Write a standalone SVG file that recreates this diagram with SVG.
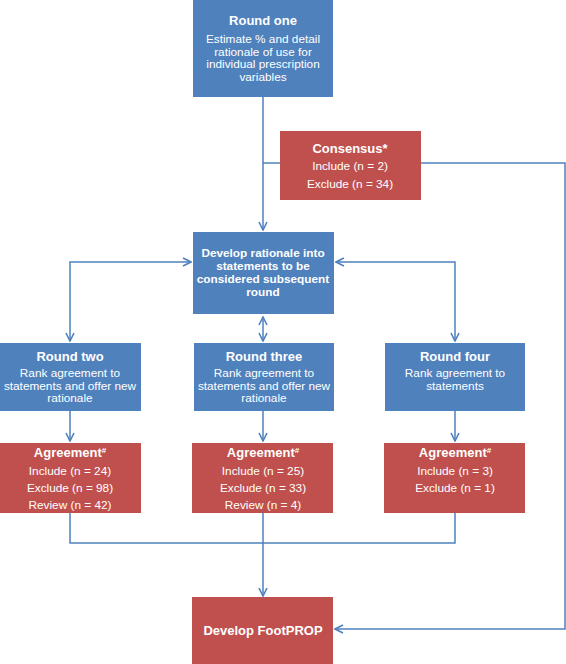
<svg xmlns="http://www.w3.org/2000/svg" width="566" height="664" viewBox="0 0 566 664">
<defs>
<marker id="ah" viewBox="0 0 10 10" refX="9" refY="5" markerWidth="10" markerHeight="10" markerUnits="userSpaceOnUse" orient="auto-start-reverse">
<path d="M1,1 L9,5 L1,9" fill="none" stroke="#4F81BD" stroke-width="1.6"/>
</marker>
<style>
.b{fill:#4F81BD}
.r{fill:#C0504D}
.t{font-family:"Liberation Sans",Arial,sans-serif;fill:#fff;text-anchor:middle}
.h{font-size:13px;font-weight:bold}
.s{font-size:11.8px}
.d{font-size:11.8px;font-weight:bold}
.c{fill:none;stroke:#4F81BD;stroke-width:1.5}
</style>
</defs>
<g id="connectors">
<path class="c" d="M263,97 V230" marker-end="url(#ah)"/>
<path class="c" d="M263,163 H565 V629 H335" marker-end="url(#ah)"/>
<path class="c" d="M70,341 V262 H191" marker-start="url(#ah)" marker-end="url(#ah)"/>
<path class="c" d="M455,341 V262 H336" marker-start="url(#ah)" marker-end="url(#ah)"/>
<path class="c" d="M263,317 V341" marker-start="url(#ah)" marker-end="url(#ah)"/>
<path class="c" d="M70,411 V441" marker-end="url(#ah)"/>
<path class="c" d="M263,411 V441" marker-end="url(#ah)"/>
<path class="c" d="M455,411 V441" marker-end="url(#ah)"/>
<path class="c" d="M70,513 V543 H455 V513"/>
<path class="c" d="M263,513 V596" marker-end="url(#ah)"/>
</g>
<g id="round-one">
<rect class="b" x="193" y="0" width="140" height="97"/>
<text class="t h" x="263" y="25">Round one</text>
<text class="t s" x="263" y="43">Estimate % and detail</text>
<text class="t s" x="263" y="55.5">rationale of use for</text>
<text class="t s" x="263" y="68">individual prescription</text>
<text class="t s" x="263" y="80.5">variables</text>
</g>
<g id="consensus">
<rect class="r" x="280" y="131" width="141" height="69"/>
<text class="t h" x="350" y="153">Consensus*</text>
<text class="t s" x="350" y="170">Include (n = 2)</text>
<text class="t s" x="350" y="188">Exclude (n = 34)</text>
</g>
<g id="develop">
<rect class="b" x="193" y="232" width="141" height="82"/>
<text class="t d" x="263" y="257">Develop rationale into</text>
<text class="t d" x="263" y="270">statements to be</text>
<text class="t d" x="263" y="283">considered subsequent</text>
<text class="t d" x="263" y="296">round</text>
</g>
<g id="round-two">
<rect class="b" x="0" y="343" width="141" height="68"/>
<text class="t h" x="70" y="361">Round two</text>
<text class="t s" x="70" y="377">Rank agreement to</text>
<text class="t s" x="70" y="389.5">statements and offer new</text>
<text class="t s" x="70" y="402">rationale</text>
</g>
<g id="round-three">
<rect class="b" x="194" y="343" width="140" height="68"/>
<text class="t h" x="264" y="361">Round three</text>
<text class="t s" x="264" y="377">Rank agreement to</text>
<text class="t s" x="264" y="389.5">statements and offer new</text>
<text class="t s" x="264" y="402">rationale</text>
</g>
<g id="round-four">
<rect class="b" x="385" y="343" width="140" height="68"/>
<text class="t h" x="455" y="361">Round four</text>
<text class="t s" x="455" y="377">Rank agreement to</text>
<text class="t s" x="455" y="389.5">statements</text>
</g>
<g id="agreement-two">
<rect class="r" x="0" y="443" width="141" height="70"/>
<text class="t h" x="70" y="457">Agreement<tspan font-size="8" dy="-4">#</tspan></text>
<text class="t s" x="70" y="475">Include (n = 24)</text>
<text class="t s" x="70" y="492">Exclude (n = 98)</text>
<text class="t s" x="70" y="509">Review (n = 42)</text>
</g>
<g id="agreement-three">
<rect class="r" x="192" y="443" width="141" height="70"/>
<text class="t h" x="263" y="457">Agreement<tspan font-size="8" dy="-4">#</tspan></text>
<text class="t s" x="263" y="475">Include (n = 25)</text>
<text class="t s" x="263" y="492">Exclude (n = 33)</text>
<text class="t s" x="263" y="509">Review (n = 4)</text>
</g>
<g id="agreement-four">
<rect class="r" x="384" y="443" width="141" height="70"/>
<text class="t h" x="455" y="457">Agreement<tspan font-size="8" dy="-4">#</tspan></text>
<text class="t s" x="455" y="475">Include (n = 3)</text>
<text class="t s" x="455" y="492">Exclude (n = 1)</text>
</g>
<g id="footprop">
<rect class="r" x="192" y="597" width="141" height="67"/>
<text class="t h" x="263" y="635">Develop FootPROP</text>
</g>
</svg>
